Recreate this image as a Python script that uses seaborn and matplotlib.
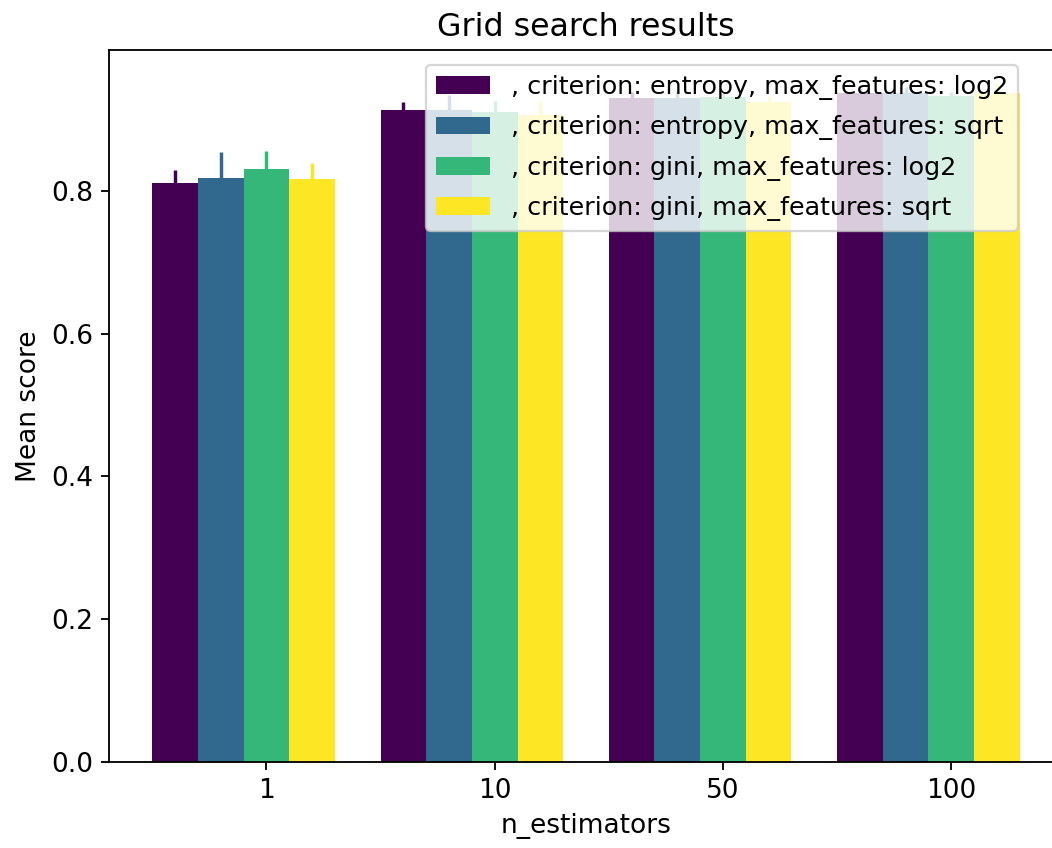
import matplotlib
matplotlib.use("Agg")
import matplotlib.pyplot as plt
import seaborn as sns
import pandas as pd
import numpy as np

n_estimators = ["1", "10", "50", "100"]
series_labels = [
    ", criterion: entropy, max_features: log2",
    ", criterion: entropy, max_features: sqrt",
    ", criterion: gini, max_features: log2",
    ", criterion: gini, max_features: sqrt",
]
entropy_log2 = [0.811, 0.914, 0.930, 0.937]
entropy_sqrt = [0.818, 0.914, 0.930, 0.937]
gini_log2 = [0.831, 0.910, 0.932, 0.933]
gini_sqrt = [0.817, 0.907, 0.924, 0.937]
err_entropy_log2 = [0.018, 0.010, 0.008, 0.007]
err_entropy_sqrt = [0.036, 0.020, 0.010, 0.009]
err_gini_log2 = [0.025, 0.016, 0.005, 0.006]
err_gini_sqrt = [0.022, 0.019, 0.009, 0.013]

means = [entropy_log2, entropy_sqrt, gini_log2, gini_sqrt]
errs = [err_entropy_log2, err_entropy_sqrt, err_gini_log2, err_gini_sqrt]

rows = []
for lab, m, e in zip(series_labels, means, errs):
    for n, v, ev in zip(n_estimators, m, e):
        rows.append({"n_estimators": n, "series": lab, "score": v, "err": ev})
df = pd.DataFrame(rows)

colors = [plt.cm.viridis(i / 3) for i in range(4)]

plt.rcParams["font.family"] = ["DejaVu Sans"]
plt.rcParams["font.size"] = 11.5

fig = plt.figure(figsize=(1052 / 165, 848 / 165), dpi=165)
W, H = 1052, 848
ax_left, ax_right, ax_top, ax_bottom = 109, 1063, 50, 762
ax = fig.add_axes([ax_left / W, (H - ax_bottom) / H,
                   (ax_right - ax_left) / W, (ax_bottom - ax_top) / H])

sns.barplot(data=df, x="n_estimators", y="score", hue="series",
            order=n_estimators, hue_order=series_labels,
            palette=colors, saturation=1, errorbar=None, width=0.8, ax=ax)

# error bars at the bar centres produced by seaborn
for container, lab, col in zip(ax.containers, series_labels, colors):
    sub = df[df["series"] == lab].set_index("n_estimators").loc[n_estimators]
    xs = [p.get_x() + p.get_width() / 2 for p in container.patches]
    ax.errorbar(xs, sub["score"].values, yerr=sub["err"].values,
                fmt="none", ecolor=col, elinewidth=1.5, capsize=0, zorder=3)

# in the reference the ticks sit under the third bar of each group
ax.set_xticks(np.arange(len(n_estimators)) + 0.1, n_estimators)
ax.set_xlim(-0.59, 3.59)
ax.set_ylim(0, 0.9975)
ax.set_yticks([0.0, 0.2, 0.4, 0.6, 0.8])
ax.set_xlabel("n_estimators")
ax.set_ylabel("Mean score")
ax.set_title("Grid search results")

handles, labels = ax.get_legend_handles_labels()
if ax.get_legend() is not None:
    ax.get_legend().remove()
ax.legend(handles[:4], labels[:4], loc="upper right",
          bbox_to_anchor=((1018 - ax_left) / (ax_right - ax_left),
                          (ax_bottom - 65) / (ax_bottom - ax_top)),
          borderaxespad=0, framealpha=0.8, fontsize=11.05, labelspacing=0.6,
          handlelength=2.15)

fig.savefig("out.png", dpi=165)
